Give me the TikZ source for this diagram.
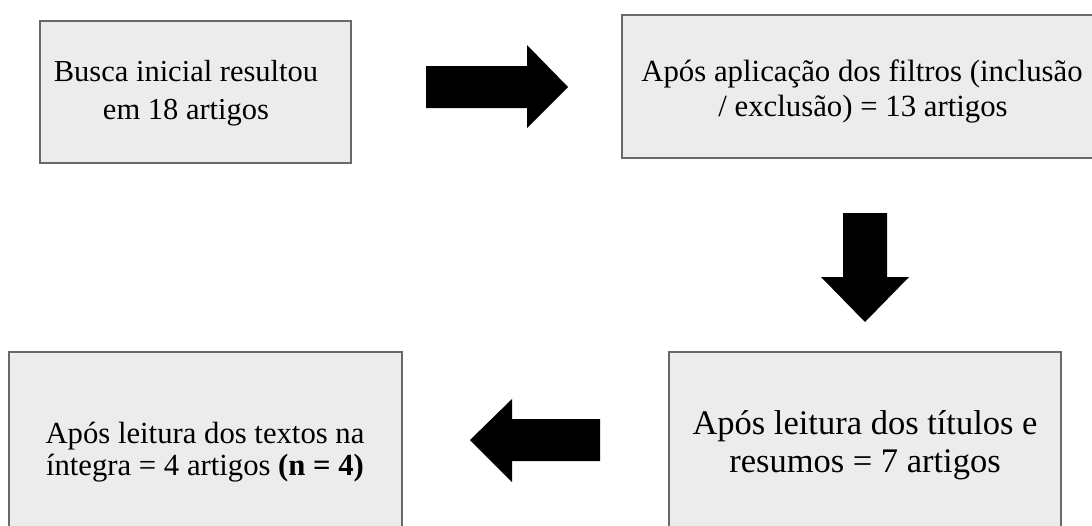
\documentclass[tikz,border=0pt]{standalone}
\usepackage{fontspec}
\setmainfont{Liberation Serif}
\usetikzlibrary{calc}

\definecolor{bordacaixa}{RGB}{105,105,105}
\definecolor{fundocaixa}{RGB}{236,236,236}

\tikzset{
	caixa/.style={draw=bordacaixa, line width=1.4pt, fill=fundocaixa, inner sep=0pt},
	linha/.style={anchor=base, inner sep=0pt},
	seta/.style={fill=black}
}

\begin{document}
\begin{tikzpicture}[x=1pt,y=-1pt]
			
			%--- Área da figura ---
			\useasboundingbox (0,0) rectangle (1092,525);
			
			%--- Caixas ---
			\node[caixa, minimum width=311pt, minimum height=142pt] (busca) at (195.5,92) {};
			\node[caixa, minimum width=478pt, minimum height=143pt] (filtros) at (861,86.5) {};
			\node[caixa, minimum width=392pt, minimum height=188pt] (resumos) at (865,446) {};
			\node[caixa, minimum width=393pt, minimum height=188pt] (integra) at (205.5,446) {};
			
			%--- Textos (uma linha por nó) ---
			\begin{scope}[font=\fontsize{30.5}{36}\selectfont]
				\node[linha] (busca1) at (186,81) {Busca inicial resultou};
				\node[linha] (busca2) at (186,119) {em 18 artigos};
			\end{scope}
			\begin{scope}[font=\fontsize{30.8}{36}\selectfont]
				\node[linha] (filtros1) at (862,81) {Após aplicação dos filtros (inclusão};
				\node[linha] (filtros2) at (863,116) {/ exclusão) = 13 artigos};
			\end{scope}
			\begin{scope}[font=\fontsize{34.5}{40}\selectfont]
				\node[linha] (resumos1) at (865,434) {Após leitura dos títulos e};
				\node[linha] (resumos2) at (865,472) {resumos = 7 artigos};
			\end{scope}
			\begin{scope}[font=\fontsize{30.7}{36}\selectfont]
				\node[linha] (integra1) at (205,443) {Após leitura dos textos na};
				\node[linha] (integra2) at (205,475) {íntegra = 4 artigos \textbf{(n = 4)}};
			\end{scope}
			
			%--- Setas ---
			\fill[seta] (426,66) -- (527,66) -- (527,45) -- (568,87)
				-- (527,128) -- (527,108) -- (426,108) -- cycle; % direita
			\fill[seta] (843,213) -- (887,213) -- (887,277) -- (909,277)
				-- (865,322) -- (821,277) -- (843,277) -- cycle; % baixo
			\fill[seta] (600,419) -- (512,419) -- (512,399) -- (470,440)
				-- (512,482) -- (512,461) -- (600,461) -- cycle; % esquerda
			
\end{tikzpicture}
\end{document}
